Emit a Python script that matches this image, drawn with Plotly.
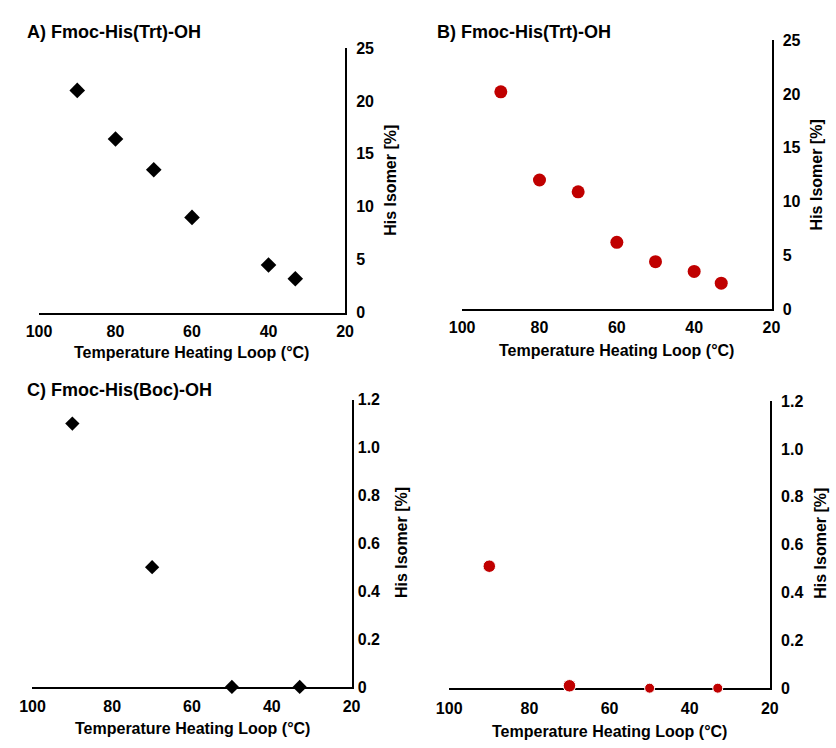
import plotly.graph_objects as go

# Heating-loop temperatures (°C) and His isomer content (%)
temp_a = [90, 80, 70, 60, 40, 33]
isomer_a = [21.0, 16.4, 13.5, 9.0, 4.5, 3.2]

temp_b = [90, 80, 70, 60, 50, 40, 33]
isomer_b = [20.2, 12.0, 10.9, 6.2, 4.4, 3.5, 2.4]

temp_c = [90, 70, 50, 33]
isomer_c = [1.10, 0.50, 0.0, 0.0]

temp_d = [90, 70, 50, 33]
isomer_d = [0.51, 0.01, 0.0, 0.0]

x_ticks = [100, 80, 60, 40, 20]
y_ticks_trt = [0, 5, 10, 15, 20, 25]
y_ticks_boc = [0, 0.2, 0.4, 0.6, 0.8, 1.0, 1.2]
y_ticktext_boc = ["0", "0.2", "0.4", "0.6", "0.8", "1.0", "1.2"]

titles = ["A) Fmoc-His(Trt)-OH", "B) Fmoc-His(Trt)-OH", "C) Fmoc-His(Boc)-OH"]
x_title = "Temperature Heating Loop (°C)"
y_title = "His Isomer [%]"

W, H = 836, 748
RED = "#c00000"
FONT = "Liberation Sans, Arial, sans-serif"


def px_x(v):
    return v / W


def px_y(v):
    return (H - v) / H


def bold(labels):
    return [f"<b>{t}</b>" for t in labels]


fig = go.Figure()

fig.add_trace(go.Scatter(x=temp_a, y=isomer_a, mode="markers", xaxis="x", yaxis="y",
                         marker=dict(symbol="diamond", size=12, color="black", opacity=1),
                         cliponaxis=False))
fig.add_trace(go.Scatter(x=temp_b, y=isomer_b, mode="markers", xaxis="x2", yaxis="y2",
                         marker=dict(symbol="circle", size=13, color=RED, opacity=1),
                         cliponaxis=False))
fig.add_trace(go.Scatter(x=temp_c, y=isomer_c, mode="markers", xaxis="x3", yaxis="y3",
                         marker=dict(symbol="diamond", size=11, color="black", opacity=1),
                         cliponaxis=False))
fig.add_trace(go.Scatter(x=temp_d, y=isomer_d, mode="markers", xaxis="x4", yaxis="y4",
                         marker=dict(symbol="circle", size=[12.5, 12.5, 10, 10], color=RED,
                                     opacity=1),
                         cliponaxis=False))

tick_font = dict(family=FONT, size=16, color="black")


def x_axis(domain, anchor, standoff):
    return dict(domain=domain, anchor=anchor, range=[100, 20], tickvals=x_ticks,
                ticktext=bold([str(v) for v in x_ticks]),
                showline=True, linecolor="black", linewidth=2, showgrid=False,
                zeroline=False, ticks="", tickfont=tick_font, layer="below traces",
                ticklabelstandoff=standoff, fixedrange=True)


def y_axis(domain, anchor, rng, vals, text, standoff):
    return dict(domain=domain, anchor=anchor, side="right", range=rng, tickvals=vals,
                ticktext=bold(text), showline=True, linecolor="black", linewidth=2,
                showgrid=False, zeroline=False, ticks="", tickfont=tick_font,
                layer="below traces", ticklabelstandoff=standoff, fixedrange=True)


dom_a = ([px_x(26.7), px_x(341)], [px_y(311.7), px_y(41)])
dom_b = ([px_x(461.3), px_x(779)], [px_y(308), px_y(33)])
dom_c = ([px_x(20), px_x(347.7)], [px_y(694.7), px_y(400.7)])
dom_d = ([px_x(448), px_x(777.3)], [px_y(696), px_y(402.3)])

trt_text = [str(v) for v in y_ticks_trt]

fig.update_layout(
    width=W, height=H, margin=dict(l=0, r=0, t=0, b=0),
    paper_bgcolor="white", plot_bgcolor="white", showlegend=False,
    xaxis=x_axis(dom_a[0], "y", 3),
    yaxis=y_axis(dom_a[1], "x", [0, 25], y_ticks_trt, trt_text, 6),
    xaxis2=x_axis(dom_b[0], "y2", 3),
    yaxis2=y_axis(dom_b[1], "x2", [0, 25], y_ticks_trt, trt_text, 6),
    xaxis3=x_axis(dom_c[0], "y3", 4),
    yaxis3=y_axis(dom_c[1], "x3", [0, 1.2], y_ticks_boc, y_ticktext_boc, 1),
    xaxis4=x_axis(dom_d[0], "y4", 5),
    yaxis4=y_axis(dom_d[1], "x4", [0, 1.2], y_ticks_boc, y_ticktext_boc, 6),
)

label_font = dict(family=FONT, size=16, color="black", weight="bold")
title_font = dict(family=FONT, size=18, color="black", weight="bold")

annotations = []
# panel headings
for txt, (x, y) in zip(titles, [(12, 25), (433, 25), (12, 391)]):
    annotations.append(dict(text=txt, x=px_x(x), y=px_y(y), xref="paper", yref="paper",
                            xanchor="left", yanchor="middle", showarrow=False,
                            font=title_font))
# x-axis titles
for x, y in [(183, 353), (620, 350), (184, 737), (613, 740)]:
    annotations.append(dict(text=x_title, x=px_x(x), y=px_y(y), xref="paper", yref="paper",
                            xanchor="center", yanchor="middle", showarrow=False,
                            font=label_font))
# y-axis titles, rotated
for x, y in [(387, 176), (825, 171), (399, 547), (829, 548)]:
    annotations.append(dict(text=y_title, x=px_x(x), y=px_y(y), xref="paper", yref="paper",
                            xanchor="center", yanchor="middle", showarrow=False,
                            textangle=-90, font=label_font))

fig.update_layout(annotations=annotations)

fig.write_html("out.html")
